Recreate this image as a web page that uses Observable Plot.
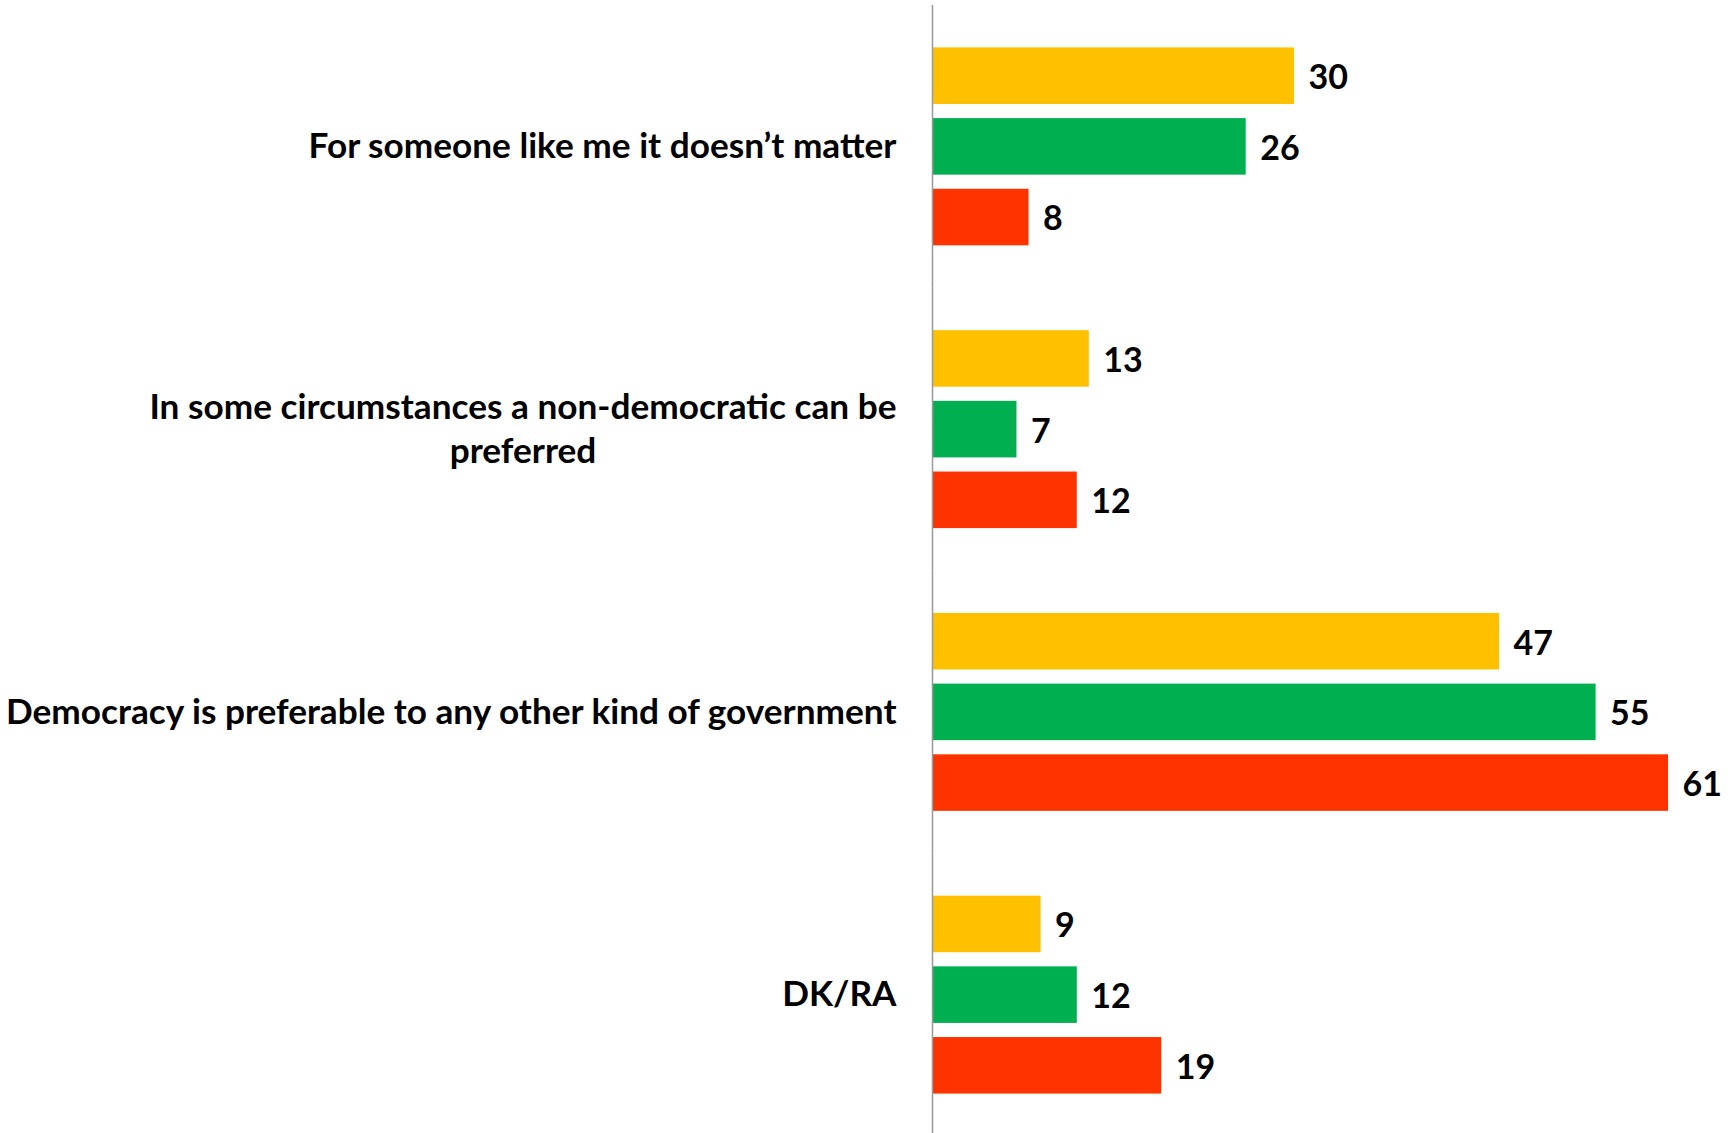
<!DOCTYPE html>
<html>
<head>
<meta charset="utf-8">
<script src="https://cdn.jsdelivr.net/npm/d3@7"></script>
<script src="https://cdn.jsdelivr.net/npm/@observablehq/plot@0.6"></script>
<style>
  html, body { margin: 0; padding: 0; background: #fff; }
  #chart svg text { font-family: Lato, "Open Sans", sans-serif; font-weight: 700; }
</style>
</head>
<body>
<div id="chart"></div>
<script>
const categories = [
  "For someone like me it doesn’t matter",
  "In some circumstances a non-democratic can be preferred",
  "Democracy is preferable to any other kind of government",
  "DK/RA"
];
const tickLabels = [
  "For someone like me it doesn’t matter",
  "In some circumstances a non-democratic can be\npreferred",
  "Democracy is preferable to any other kind of government",
  "DK/RA"
];
const seriesNames = ["Series 1", "Series 2", "Series 3"];
const series1 = [30, 13, 47, 9];
const series2 = [26, 7, 55, 12];
const series3 = [8, 12, 61, 19];
const seriesColors = ["#FFC000", "#00B050", "#FF3300"];

const allSeries = [series1, series2, series3];
const data = [];
categories.forEach((c, i) => {
  allSeries.forEach((s, j) => {
    data.push({category: c, series: seriesNames[j], value: s[i]});
  });
});

const chart = Plot.plot({
  width: 1734,
  height: 1133,
  marginLeft: 932,
  marginRight: 66,
  marginTop: 5,
  marginBottom: -3,
  x: {domain: [0, 61], axis: null},
  fy: {domain: categories, padding: 0, round: false, label: null},
  y: {domain: seriesNames, paddingInner: 0.2, paddingOuter: 0.6, round: false, axis: null},
  color: {domain: seriesNames, range: seriesColors},
  marks: [
    Plot.barX(data, {x: "value", y: "series", fy: "category", fill: "series"}),
    Plot.text(data, {
      x: "value", y: "series", fy: "category",
      text: d => String(d.value),
      textAnchor: "start", dx: 14, dy: 2, fontSize: 34, fontWeight: 700, fill: "#000"
    }),
    Plot.ruleX([0], {stroke: "#999", strokeWidth: 1.5}),
    Plot.axisFy({
      anchor: "left", tickSize: 0, tickPadding: 36, label: null,
      fontSize: 35.2, fontWeight: 700, lineHeight: 1.26, dy: -3,
      tickFormat: d => tickLabels[categories.indexOf(d)]
    })
  ]
});

document.getElementById("chart").appendChild(chart);

// Center multi-line tick labels within their right-aligned block
chart.querySelectorAll('[aria-label="fy-axis tick label"] text').forEach(t => {
  const spans = t.querySelectorAll("tspan");
  if (spans.length > 1) {
    let maxW = 0;
    spans.forEach(s => { maxW = Math.max(maxW, s.getComputedTextLength()); });
    t.setAttribute("text-anchor", "middle");
    spans.forEach(s => s.setAttribute("x", -maxW / 2));
  }
});
</script>
</body>
</html>
